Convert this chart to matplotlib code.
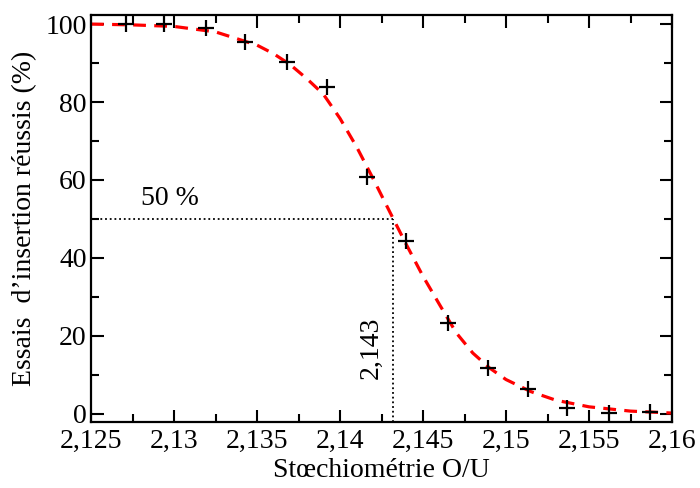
import matplotlib
matplotlib.use("Agg")
import matplotlib.pyplot as plt
from matplotlib.ticker import MultipleLocator, FixedLocator

# Measured points
x_data = [2.1271, 2.1294, 2.1319, 2.1343, 2.1368, 2.1392, 2.1416,
          2.1440, 2.1465, 2.1489, 2.1513, 2.1537, 2.1562, 2.1587]
y_data = [100.0, 100.0, 98.9, 95.5, 90.3, 83.9, 60.8,
          44.4, 23.3, 11.7, 6.3, 1.5, 0.2, 0.4]

# Fitted curve
x_fit = [2.125, 2.1275, 2.13, 2.1325, 2.135, 2.136, 2.137, 2.138, 2.139,
         2.140, 2.141, 2.142, 2.143, 2.144, 2.145, 2.146, 2.147, 2.148,
         2.149, 2.150, 2.1515, 2.153, 2.155, 2.1575, 2.16]
y_fit = [100.0, 99.8, 99.4, 98.0, 94.6, 92.4, 89.6, 86.0, 82.0,
         75.8, 68.5, 60.3, 51.8, 43.4, 35.3, 28.0, 20.8, 15.6,
         11.8, 8.8, 5.7, 3.5, 1.8, 0.7, 0.2]

x50 = 2.1432
y50 = 50

x_ticks = [2.125, 2.13, 2.135, 2.14, 2.145, 2.15, 2.155, 2.16]
x_tick_labels = ["2,125", "2,13", "2,135", "2,14", "2,145", "2,15", "2,155", "2,16"]
y_ticks = [0, 20, 40, 60, 80, 100]

plt.rcParams['font.family'] = ['Liberation Serif', 'DejaVu Serif']
plt.rcParams['mathtext.fontset'] = 'stix'

fig = plt.figure(figsize=(7.0, 4.88), dpi=100)
ax = fig.add_axes([0.130, 0.136, 0.830, 0.833])

xmin, xmax = 2.125, 2.16
ymin, ymax = -2, 102.3
ax.set_xlim(xmin, xmax)
ax.set_ylim(ymin, ymax)

# dotted guide lines
ax.plot([xmin, x50], [y50, y50], color='black', lw=1.3, linestyle=(0, (1, 1.6)))
ax.plot([x50, x50], [ymin, y50], color='black', lw=1.3, linestyle=(0, (1, 1.6)))

# fitted curve
ax.plot(x_fit, y_fit, color='#ff0000', lw=2.3, dashes=(4, 2.6),
        dash_capstyle='butt')

# data
ax.plot(x_data, y_data, linestyle='none', marker='+', color='black',
        markersize=11, markeredgewidth=1.6, zorder=5)

ax.text(2.1280, 55.2, "50 %", fontsize=20, ha='left', va='center')
ax.text(2.1419, 17, "2,143", fontsize=20, rotation=90, ha='center', va='center')

ax.xaxis.set_major_locator(FixedLocator(x_ticks))
ax.set_xticklabels(x_tick_labels)
ax.xaxis.set_minor_locator(MultipleLocator(0.0025))
ax.yaxis.set_major_locator(FixedLocator(y_ticks))
ax.yaxis.set_minor_locator(MultipleLocator(10))

ax.tick_params(which='both', direction='in', top=True, right=True, width=1.5,
               labelsize=20)
ax.tick_params(axis='x', pad=5)
ax.tick_params(axis='y', pad=3)
ax.tick_params(which='major', length=9)
ax.tick_params(which='minor', length=6)
for s in ax.spines.values():
    s.set_linewidth(1.6)

ax.set_xlabel("Stœchiométrie O/U", fontsize=20, labelpad=3)
ax.set_ylabel("Essais  d’insertion réussis (%)", fontsize=20, labelpad=6)

fig.savefig("out.png", dpi=100)
